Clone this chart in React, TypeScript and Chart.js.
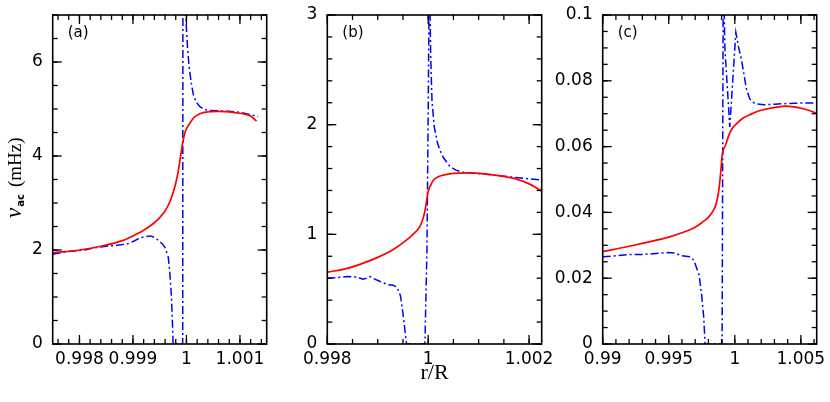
import React, { useEffect, useRef } from 'react';
import { Chart, registerables } from 'chart.js';

Chart.register(...registerables);

// ---------- Panel (a) ----------
const aRedX = [0.9975, 0.998, 0.9984, 0.9988, 0.999, 0.9992, 0.9994, 0.9995, 0.9996, 0.99968, 0.99975, 0.9998, 0.99985, 0.99988, 0.99991, 0.99994, 0.99997, 1.00002, 1.00007, 1.00015, 1.00025, 1.0004, 1.0006, 1.0008, 1.001, 1.0012, 1.00131];
const aRedY = [1.94, 2.0, 2.08, 2.2, 2.3, 2.42, 2.58, 2.69, 2.83, 3.0, 3.22, 3.42, 3.7, 3.92, 4.14, 4.34, 4.49, 4.62, 4.71, 4.83, 4.9, 4.94, 4.95, 4.94, 4.91, 4.85, 4.74];
const aBlueX = [0.9975, 0.9978, 0.9981, 0.9983, 0.9985, 0.9987, 0.9989, 0.999, 0.9991, 0.9992, 0.99933, 0.9994, 0.99948, 0.99955, 0.9996, 0.99966, 0.99969, 0.99972, 0.99974, 0.99975, 0.99993, 0.999935, 0.99998, 1.0, 1.00002, 1.00005, 1.00009, 1.00013, 1.00018, 1.00025, 1.00032, 1.0004, 1.0006, 1.0008, 1.001, 1.0012, 1.00134];
const aBlueY = [1.91, 1.97, 2.0, 2.05, 2.08, 2.1, 2.13, 2.18, 2.24, 2.28, 2.3, 2.27, 2.2, 2.13, 2.05, 1.85, 1.5, 1.0, 0.4, 0, 0, 9, 7.4, 6.7, 6.3, 5.9, 5.55, 5.3, 5.15, 5.05, 5.0, 4.97, 4.96, 4.95, 4.93, 4.88, 4.84];
const aXTicks = [0.998, 0.999, 1, 1.001];
const aYTicks = [0, 2, 4, 6];

// ---------- Panel (b) ----------
const bRedX = [0.998, 0.9984, 0.9987, 0.999, 0.9993, 0.99955, 0.9997, 0.99982, 0.99988, 0.99993, 0.99997, 1.0, 1.00004, 1.0001, 1.0002, 1.0003, 1.0005, 1.0008, 1.0011, 1.0014, 1.0017, 1.002, 1.00225];
const bRedY = [0.655, 0.69, 0.735, 0.79, 0.86, 0.94, 1.0, 1.06, 1.12, 1.2, 1.31, 1.39, 1.44, 1.49, 1.525, 1.54, 1.555, 1.56, 1.552, 1.535, 1.51, 1.46, 1.395];
const bBlueX = [0.998, 0.9982, 0.9984, 0.9986, 0.9987, 0.99878, 0.99885, 0.9989, 0.99905, 0.9992, 0.9993, 0.99938, 0.99945, 0.9995, 0.99957, 0.999935, 0.999975, 1.000002, 1.000025, 1.000036, 1.00005, 1.000075, 1.00012, 1.00018, 1.00023, 1.0003, 1.00043, 1.00055, 1.0007, 1.0009, 1.0012, 1.0015, 1.0018, 1.00225];
const bBlueY = [0.6, 0.605, 0.615, 0.61, 0.59, 0.6, 0.615, 0.6, 0.57, 0.54, 0.535, 0.52, 0.44, 0.28, 0, 0, 0.86, 2.22, 3.6, 3.05, 2.62, 2.22, 1.98, 1.84, 1.77, 1.7, 1.62, 1.585, 1.565, 1.558, 1.545, 1.53, 1.515, 1.495];
const bXTicks = [0.998, 1, 1.002];
const bYTicks = [0, 1, 2, 3];

// ---------- Panel (c) ----------
const cRedX = [0.99, 0.992, 0.994, 0.995, 0.996, 0.997, 0.9976, 0.998, 0.9984, 0.9986, 0.9988, 0.99893, 0.99905, 0.99915, 0.9993, 0.99955, 0.9998, 1.0002, 1.0006, 1.0012, 1.0018, 1.0025, 1.0032, 1.0038, 1.0045, 1.0052, 1.0057, 1.0062];
const cRedY = [0.0281, 0.0297, 0.0315, 0.0325, 0.0338, 0.0355, 0.0372, 0.0385, 0.0408, 0.0428, 0.047, 0.052, 0.0575, 0.0592, 0.0605, 0.0635, 0.0655, 0.0672, 0.0686, 0.0698, 0.0708, 0.0715, 0.072, 0.0723, 0.0721, 0.0715, 0.0709, 0.0701];
const cBlueX = [0.99, 0.991, 0.992, 0.993, 0.994, 0.995, 0.9955, 0.996, 0.9966, 0.9969, 0.9971, 0.9973, 0.9975, 0.99765, 0.99775, 0.99904, 0.99912, 0.99918, 0.99925, 0.99962, 1.00008, 1.0003, 1.00051, 1.00088, 1.00113, 1.0015, 1.0022, 1.003, 1.0045, 1.0062];
const cBlueY = [0.0265, 0.0268, 0.0272, 0.0272, 0.0275, 0.0278, 0.0276, 0.0268, 0.0265, 0.0255, 0.0232, 0.021, 0.0145, 0.008, 0, 0, 0.106, 0.104, 0.09, 0.066, 0.0947, 0.09, 0.0863, 0.0775, 0.0745, 0.0731, 0.0727, 0.0729, 0.0732, 0.0733];
const cXTicks = [0.99, 0.995, 1, 1.005];
const cYTicks = [0, 0.02, 0.04, 0.06, 0.08, 0.1];

const Y_SYMBOL = 'ν';
const Y_SUB = 'ac';
const Y_UNIT = '(mHz)';
const X_TITLE = 'r/R';

const W = 830;
const H = 402;
const TOP = 15;
const BOTTOM = 344;
const SANS = '"DejaVu Sans", "Liberation Sans", sans-serif';
const SERIF = '"Liberation Serif", "DejaVu Serif", serif';

type Panel = {
  tag: string;
  redX: number[]; redY: number[];
  blueX: number[]; blueY: number[];
  xMin: number; xMax: number; yMin: number; yMax: number;
  xTicks: number[]; yTicks: number[];
  xMinor: number; yMinor: number;
  left: number; right: number;
  xTitle?: string;
  yTitle?: boolean;
};

const panels: Panel[] = [
  { tag: '(a)', redX: aRedX, redY: aRedY, blueX: aBlueX, blueY: aBlueY, xMin: 0.9975, xMax: 1.0015, yMin: 0, yMax: 7, xTicks: aXTicks, yTicks: aYTicks, xMinor: 0.0002, yMinor: 0.5, left: 52.7, right: 266.7, yTitle: true },
  { tag: '(b)', redX: bRedX, redY: bRedY, blueX: bBlueX, blueY: bBlueY, xMin: 0.998, xMax: 1.00225, yMin: 0, yMax: 3, xTicks: bXTicks, yTicks: bYTicks, xMinor: 0.0005, yMinor: 0.2, left: 327.3, right: 541.7, xTitle: X_TITLE },
  { tag: '(c)', redX: cRedX, redY: cRedY, blueX: cBlueX, blueY: cBlueY, xMin: 0.99, xMax: 1.0062, yMin: 0, yMax: 0.1, xTicks: cXTicks, yTicks: cYTicks, xMinor: 0.001, yMinor: 0.005, left: 602.7, right: 816.7 },
];

const fmt = (v: number) => String(Number(v.toPrecision(6)));

function framePlugin(p: Panel) {
  return {
    id: 'frame',
    afterDraw(chart: any) {
      const ctx: CanvasRenderingContext2D = chart.ctx;
      const ca = chart.chartArea;
      const left = ca.left, right = ca.right, top = ca.top, bottom = ca.bottom;
      const xs = chart.scales.x;
      const ys = chart.scales.y;
      ctx.save();
      ctx.setLineDash([]);
      ctx.fillStyle = '#000';
      const tw = 1.3;
      const xTick = (v: number, len: number) => {
        const px = xs.getPixelForValue(v);
        ctx.fillRect(px - tw / 2, bottom - len, tw, len);
        ctx.fillRect(px - tw / 2, top, tw, len);
      };
      const yTick = (v: number, len: number) => {
        const py = ys.getPixelForValue(v);
        ctx.fillRect(left, py - tw / 2, len, tw);
        ctx.fillRect(right - len, py - tw / 2, len, tw);
      };
      const nx = Math.round((p.xMax - p.xMin) / p.xMinor) + 2;
      const kx0 = Math.ceil(p.xMin / p.xMinor - 1e-6);
      for (let i = 0; i < nx; i++) {
        const v = (kx0 + i) * p.xMinor;
        if (v <= p.xMax + 1e-9) xTick(v, 5);
      }
      const ny = Math.round((p.yMax - p.yMin) / p.yMinor) + 2;
      const ky0 = Math.ceil(p.yMin / p.yMinor - 1e-6);
      for (let i = 0; i < ny; i++) {
        const v = (ky0 + i) * p.yMinor;
        if (v <= p.yMax + 1e-9) yTick(v, 5);
      }
      p.xTicks.forEach((v) => xTick(v, 9));
      p.yTicks.forEach((v) => yTick(v, 9));

      ctx.strokeStyle = '#000';
      ctx.lineWidth = 1.6;
      ctx.strokeRect(left, top, right - left, bottom - top);

      ctx.font = '15px ' + SANS;
      ctx.textBaseline = 'alphabetic';
      ctx.textAlign = 'left';
      ctx.fillText(p.tag, left + 15, top + 22);

      if (p.yTitle) {
        ctx.translate(21, 218);
        ctx.rotate(-Math.PI / 2);
        ctx.font = 'italic 23px ' + SERIF;
        ctx.fillText(Y_SYMBOL, 0, 0);
        let x = ctx.measureText(Y_SYMBOL).width + 1;
        ctx.font = 'bold 10px ' + SANS;
        ctx.fillText(Y_SUB, x, 3);
        x += ctx.measureText(Y_SUB).width + 7;
        ctx.font = '19px ' + SERIF;
        ctx.fillText(Y_UNIT, x, 0);
      }
      ctx.restore();
    },
  };
}

function makeConfig(p: Panel): any {
  const tickFont = { family: SANS, size: 17 };
  const yAxisW = Math.min(62, p.left);
  return {
    type: 'line',
    data: {
      datasets: [
        {
          data: p.redX.map((x, i) => ({ x, y: p.redY[i] })),
          borderColor: '#ff0000',
          borderWidth: 1.7,
          pointRadius: 0,
          cubicInterpolationMode: 'monotone',
          fill: false,
        },
        {
          data: p.blueX.map((x, i) => ({ x, y: p.blueY[i] })),
          borderColor: '#0000ff',
          borderWidth: 1.5,
          borderDash: [8, 3, 2, 3],
          pointRadius: 0,
          tension: 0,
          fill: false,
        },
      ],
    },
    options: {
      animation: false,
      responsive: false,
      events: [],
      layout: { padding: { left: p.left - yAxisW, right: W - p.right, top: TOP, bottom: 0 } },
      plugins: { legend: { display: false }, tooltip: { enabled: false }, title: { display: false } },
      scales: {
        x: {
          type: 'linear',
          min: p.xMin,
          max: p.xMax,
          grid: { display: false, drawTicks: false },
          border: { display: false },
          ticks: { font: tickFont, color: '#000', padding: 5, autoSkip: false, maxRotation: 0, minRotation: 0, callback: (v: number) => fmt(v) },
          title: p.xTitle
            ? { display: true, text: p.xTitle, color: '#000', font: { family: SERIF, size: 22 }, padding: { top: 0, bottom: 16 } }
            : { display: false },
          afterBuildTicks: (s: any) => { s.ticks = p.xTicks.map((v) => ({ value: v })); },
          afterFit: (s: any) => { s.height = H - BOTTOM; s.paddingLeft = 0; s.paddingRight = 0; },
        },
        y: {
          type: 'linear',
          min: p.yMin,
          max: p.yMax,
          grid: { display: false, drawTicks: false },
          border: { display: false },
          ticks: { font: tickFont, color: '#000', padding: 10, autoSkip: false, callback: (v: number) => fmt(v) },
          afterBuildTicks: (s: any) => { s.ticks = p.yTicks.map((v) => ({ value: v })); },
          afterFit: (s: any) => { s.width = yAxisW; s.paddingTop = 0; s.paddingBottom = 0; },
        },
      },
    },
    plugins: [framePlugin(p)],
  };
}

export default function App() {
  const r0 = useRef<HTMLCanvasElement>(null);
  const r1 = useRef<HTMLCanvasElement>(null);
  const r2 = useRef<HTMLCanvasElement>(null);
  const refs = [r0, r1, r2];
  useEffect(() => {
    const charts = panels.map((p, i) => new Chart(refs[i].current as HTMLCanvasElement, makeConfig(p)));
    return () => charts.forEach((c) => c.destroy());
  }, []);
  return (
    <div style={{ position: 'absolute', left: 0, top: 0, width: W, height: H, background: '#fff' }}>
      {panels.map((p, i) => (
        <canvas key={p.tag} ref={refs[i]} width={W} height={H} style={{ position: 'absolute', left: 0, top: 0, width: W, height: H }} />
      ))}
    </div>
  );
}
